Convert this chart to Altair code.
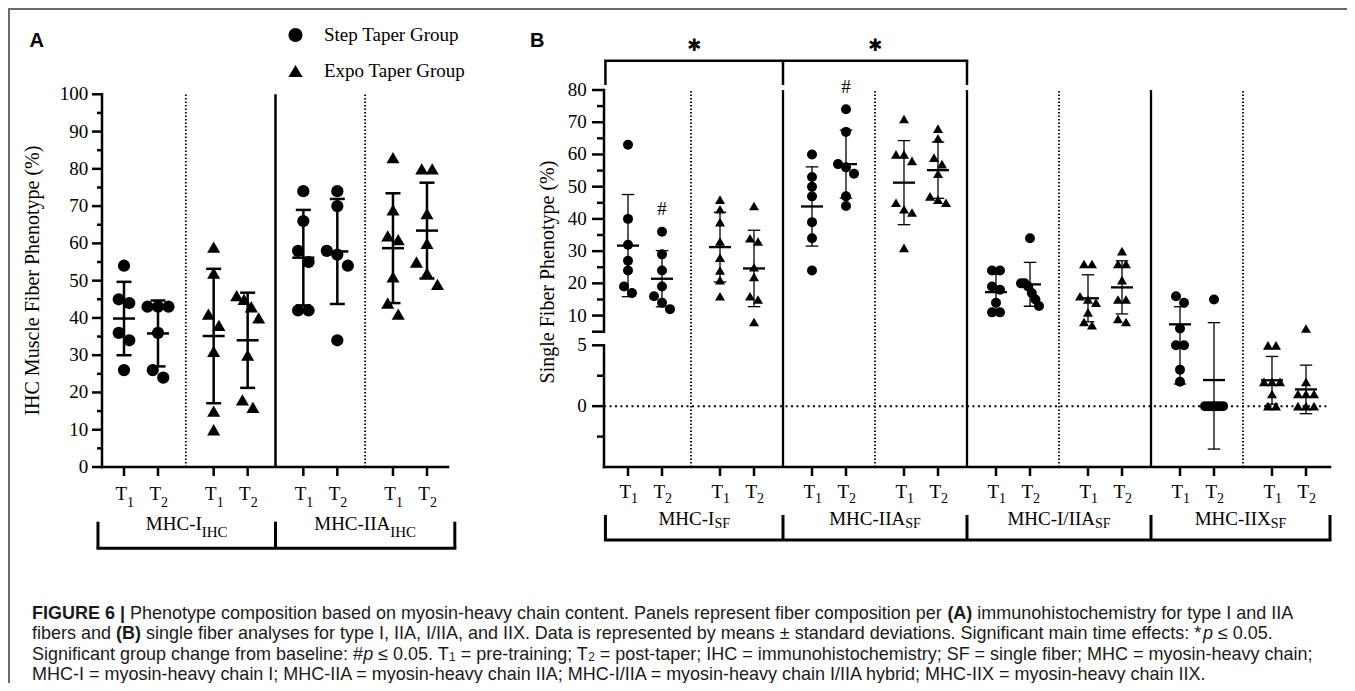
import altair as alt
import numpy as np
import pandas as pd

# ---------------- values ----------------
GROUPS = ["Step Taper Group", "Expo Taper Group"]
SHAPES = ["circle", "triangle-up"]
TIMES = ["T1", "T2"]

A_BLOCKS = ["MHC-I", "MHC-IIA"]
A_SUBSCRIPT = "IHC"
A_TITLE = "IHC Muscle Fiber Phenotype (%)"
A_I_STEP_T1 = [54, 45, 44, 36, 34, 26]
A_I_STEP_T2 = [43, 43, 43, 36, 26, 24]
A_I_EXPO_T1 = [59, 52, 41, 38, 31, 15, 10]
A_I_EXPO_T2 = [46, 45, 43, 40, 30, 18, 16]
A_IIA_STEP_T1 = [74, 66, 58, 55, 42, 42]
A_IIA_STEP_T2 = [74, 70, 58, 57, 54, 34]
A_IIA_EXPO_T1 = [83, 69, 62, 61, 51, 44, 41]
A_IIA_EXPO_T2 = [80, 80, 68, 60, 55, 52, 49]
A_Y_TICKS = [0, 10, 20, 30, 40, 50, 60, 70, 80, 90, 100]
A_Y_MINOR = [5, 15, 25, 35, 45, 55, 65, 75, 85, 95]

B_BLOCKS = ["MHC-I", "MHC-IIA", "MHC-I/IIA", "MHC-IIX"]
B_SUBSCRIPT = "SF"
B_TITLE = "Single Fiber Phenotype (%)"
B_I_STEP_T1 = [63, 40, 32, 27, 24, 19, 17]
B_I_STEP_T2 = [36, 29, 24, 19, 16, 14, 12]
B_I_EXPO_T1 = [46, 43, 39, 33, 28, 24, 21, 16]
B_I_EXPO_T2 = [44, 34, 33, 25, 22, 16, 15, 8]
B_IIA_STEP_T1 = [60, 53, 50, 47, 39, 34, 24]
B_IIA_STEP_T2 = [74, 67, 57, 56, 54, 47, 44]
B_IIA_EXPO_T1 = [71, 60, 60, 58, 45, 43, 42, 31]
B_IIA_EXPO_T2 = [68, 65, 59, 57, 54, 47, 46, 45]
B_HYB_STEP_T1 = [24, 24, 19, 18, 14, 11, 11]
B_HYB_STEP_T2 = [34, 20, 20, 19, 17, 15, 13]
B_HYB_EXPO_T1 = [26, 26, 16, 15, 14, 11, 8, 7]
B_HYB_EXPO_T2 = [30, 26, 26, 21, 15, 15, 9, 8]
B_IIX_STEP_T1 = [16, 14, 6, 5, 5, 3, 2]
B_IIX_STEP_T2 = [15, 0, 0, 0, 0, 0, 0]
B_IIX_EXPO_T1 = [5, 5, 2, 2, 2, 1, 0, 0]
B_IIX_EXPO_T2 = [6, 2, 1, 1, 1, 0, 0, 0]
B_Y_TICKS = [0, 5, 10, 20, 30, 40, 50, 60, 70, 80]
B_Y_MINOR = [-2.5, 2.5, 15, 25, 35, 45, 55, 65, 75]
B_HASH = [("MHC-I", "Step Taper Group", "T2"), ("MHC-IIA", "Step Taper Group", "T2")]
HASH_SYMBOL = "#"
B_TIME_EFFECT = ["MHC-I", "MHC-IIA"]
TIME_SYMBOL = "\u2731"

CAPTION_LINES = [
    [("FIGURE 6 |", "b"),
     (" Phenotype composition based on myosin-heavy chain content. Panels represent fiber composition per ", "r"),
     ("(A)", "b"), (" immunohistochemistry for type I and IIA", "r")],
    [("fibers and ", "r"), ("(B)", "b"),
     (" single fiber analyses for type I, IIA, I/IIA, and IIX. Data is represented by means \u00b1 standard deviations. Significant main time effects: *", "r"),
     ("p", "i"), (" \u2264 0.05.", "r")],
    [("Significant group change from baseline: #", "r"), ("p", "i"), (" \u2264 0.05. T", "r"), ("1", "s"),
     (" = pre-training; T", "r"), ("2", "s"),
     (" = post-taper; IHC = immunohistochemistry; SF = single fiber; MHC = myosin-heavy chain;", "r")],
    [("MHC-I = myosin-heavy chain I; MHC-IIA = myosin-heavy chain IIA; MHC-I/IIA = myosin-heavy chain I/IIA hybrid; MHC-IIX = myosin-heavy chain IIX.", "r")],
]

A_SERIES = [
    ("MHC-I", GROUPS[0], "T1", A_I_STEP_T1), ("MHC-I", GROUPS[0], "T2", A_I_STEP_T2),
    ("MHC-I", GROUPS[1], "T1", A_I_EXPO_T1), ("MHC-I", GROUPS[1], "T2", A_I_EXPO_T2),
    ("MHC-IIA", GROUPS[0], "T1", A_IIA_STEP_T1), ("MHC-IIA", GROUPS[0], "T2", A_IIA_STEP_T2),
    ("MHC-IIA", GROUPS[1], "T1", A_IIA_EXPO_T1), ("MHC-IIA", GROUPS[1], "T2", A_IIA_EXPO_T2),
]
B_SERIES = [
    ("MHC-I", GROUPS[0], "T1", B_I_STEP_T1), ("MHC-I", GROUPS[0], "T2", B_I_STEP_T2),
    ("MHC-I", GROUPS[1], "T1", B_I_EXPO_T1), ("MHC-I", GROUPS[1], "T2", B_I_EXPO_T2),
    ("MHC-IIA", GROUPS[0], "T1", B_IIA_STEP_T1), ("MHC-IIA", GROUPS[0], "T2", B_IIA_STEP_T2),
    ("MHC-IIA", GROUPS[1], "T1", B_IIA_EXPO_T1), ("MHC-IIA", GROUPS[1], "T2", B_IIA_EXPO_T2),
    ("MHC-I/IIA", GROUPS[0], "T1", B_HYB_STEP_T1), ("MHC-I/IIA", GROUPS[0], "T2", B_HYB_STEP_T2),
    ("MHC-I/IIA", GROUPS[1], "T1", B_HYB_EXPO_T1), ("MHC-I/IIA", GROUPS[1], "T2", B_HYB_EXPO_T2),
    ("MHC-IIX", GROUPS[0], "T1", B_IIX_STEP_T1), ("MHC-IIX", GROUPS[0], "T2", B_IIX_STEP_T2),
    ("MHC-IIX", GROUPS[1], "T1", B_IIX_EXPO_T1), ("MHC-IIX", GROUPS[1], "T2", B_IIX_EXPO_T2),
]

# ---------------- layout / style ----------------
W, H = 1339, 675
INK = "black"
SERIF = "Liberation Serif"
SANS = "Liberation Sans"
TICK_FS = 19
T_OFF_PX = 17
XT_LEN = 9

TIMES_W = {"M": 889, "H": 722, "C": 667, "-": 333, "I": 333, "A": 722, "/": 278,
           "X": 722, "S": 556, "F": 556, "T": 611}


def serif_w(s, fs):
    return sum(TIMES_W.get(ch, 500) for ch in s) * fs / 1000.0


HELV = {ch: 556 for ch in "0123456789abdeghnopqu#$?_"}
HELV.update({ch: 500 for ch in "cksvxyzJ"})
HELV.update({ch: 222 for ch in "ijl"})
HELV.update({ch: 278 for ch in " !,./:;ftI[]"})
HELV.update({ch: 333 for ch in "()-r"})
HELV.update({ch: 667 for ch in "ABEKPSVXY"})
HELV.update({ch: 722 for ch in "CDHNRUw"})
HELV.update({ch: 778 for ch in "GOQ"})
HELV.update({ch: 611 for ch in "FTZ"})
HELV.update({"L": 556, "M": 833, "W": 944, "m": 833, "%": 889, "&": 667, "*": 389,
             "+": 584, "=": 584, "<": 584, ">": 584, "|": 260, "\u00b1": 584, "\u2264": 549})
HELV_B = dict(HELV)
HELV_B.update({"A": 722, "B": 722, "|": 280})
SUB_F = 0.66


def seg_w(text, style, fs):
    tbl = HELV_B if style == "b" else HELV
    f = fs * (SUB_F if style == "s" else 1.0)
    return sum(tbl.get(ch, 556) for ch in text) * f / 1000.0


def swarm(vals, to_px, near, gap, maxw):
    order = sorted(range(len(vals)), key=lambda i: -vals[i])
    clusters, last = [], None
    for i in order:
        p = to_px(vals[i])
        if last is not None and abs(p - last) < near:
            clusters[-1].append(i)
        else:
            clusters.append([i])
        last = p
    off = [0.0] * len(vals)
    for cl in clusters:
        n = len(cl)
        if n > 1:
            sp = min(gap, maxw / (n - 1))
            for j, i in enumerate(cl):
                off[i] = (j - (n - 1) / 2) * sp
    return off


LEGEND = alt.Legend(title=None, orient="none", legendX=278, legendY=17.5, padding=0,
                    labelFont=SERIF, labelFontSize=19, labelColor=INK, labelOffset=19,
                    rowPadding=16, symbolSize=200, symbolFillColor=INK, symbolStrokeColor=INK,
                    symbolStrokeWidth=0, symbolOpacity=1, labelLimit=300)

A_CFG = dict(xdom=[-0.435, 3.424], xrng=[94, 440], ydom=[0, 100], yrng=[459, 86.3],
             ybase=0, ytop=100, segs=[(0, 100)], major=A_Y_TICKS, minor=A_Y_MINOR, labels=A_Y_TICKS,
             edges=[-0.48, 1.5, 3.5], near=12, gap=10.5, maxw=22, msize=[150, 170],
             axis_w=2.5, maj_len=10, min_len=5, lab_dx=-13.7,
             t_base=492, tsub_base=498.7, tsub_fs=14,
             cat_base=522, csub_base=528.7, cat_fs=19, csub_fs=15,
             br_top=513.7, br_bot=540.3, br_w=3,
             rule_w=2.5, cap_len=15, cap_w=2.5, mean_len=22, mean_w=2.5,
             solid_w=2.5, dot_w=1.8, dot_dash=[1.5, 2], legend=True)

B_BREAK = 5.0001
B_CFG = dict(xdom=[-0.4457, 7.4457], xrng=[596, 1322], ydom=[-5, 5, B_BREAK, 80],
             yrng=[459, 337.3, 323.7, 82],
             ybase=-5, ytop=80, segs=[(-5, 5), (B_BREAK, 80)], major=B_Y_TICKS + [B_BREAK],
             minor=B_Y_MINOR, labels=B_Y_TICKS,
             edges=[-0.43, 1.5, 3.5, 5.5, 7.4457], near=9, gap=8, maxw=18, msize=[100, 100],
             axis_w=2.5, maj_len=12, min_len=7, lab_dx=-17.3,
             t_base=490.3, tsub_base=495.3, tsub_fs=14,
             cat_base=517, csub_base=520.3, cat_fs=19, csub_fs=14,
             br_top=507, br_bot=532, br_w=3,
             rule_w=1.3, cap_len=12.5, cap_w=1.3, mean_len=22, mean_w=2.3,
             solid_w=2.3, dot_w=1.8, dot_dash=[1.5, 2], legend=False,
             zero_w=2, zero_dash=[2, 3.5], top_y=52.7, top_bot=77, top_w=2.5,
             star_y=38, hash_dy=-22.5)


def build_panel(series, blocks, subscript, c):
    xs = alt.Scale(domain=c["xdom"], range=c["xrng"], nice=False, zero=False)
    ys = alt.Scale(domain=c["ydom"], range=c["yrng"], nice=False, zero=False)
    ppu = (c["xrng"][1] - c["xrng"][0]) / (c["xdom"][1] - c["xdom"][0])
    toff = T_OFF_PX / ppu

    def ypx(v):
        return float(np.interp(v, c["ydom"], c["yrng"]))

    def X(f):
        return alt.X(f, type="quantitative", scale=xs, axis=None)

    def Y(f):
        return alt.Y(f, type="quantitative", scale=ys, axis=None)

    rows, slots = [], []
    for block, grp, t, vals in series:
        gi = GROUPS.index(grp)
        u = 2 * blocks.index(block) + gi + (toff if t == TIMES[1] else -toff)
        slots.append({"u": u, "yb": c["ybase"], "main": t[0], "sub": t[1:]})
        for v, o in zip(vals, swarm(vals, ypx, c["near"], c["gap"], c["maxw"])):
            rows.append({"block": block, "group": grp, "time": t, "u": u, "value": v,
                         "xj": u + o / ppu, "shape": SHAPES[gi]})
    pts = pd.DataFrame(rows)
    slots = pd.DataFrame(slots)
    nb = len(blocks)
    L = []

    # dividers
    dotted = pd.DataFrame({"x": [2 * b + 0.5 for b in range(nb)], "y0": c["ybase"], "y1": c["ytop"]})
    solid = pd.DataFrame({"x": [2 * b + 1.5 for b in range(nb - 1)], "y0": c["ybase"], "y1": c["ytop"]})
    L.append(alt.Chart(dotted).mark_rule(color=INK, strokeWidth=c["dot_w"], strokeDash=c["dot_dash"])
             .encode(x=X("x"), y=Y("y0"), y2=alt.Y2("y1")))
    L.append(alt.Chart(solid).mark_rule(color=INK, strokeWidth=c["solid_w"])
             .encode(x=X("x"), y=Y("y0"), y2=alt.Y2("y1")))
    if "zero_w" in c:
        zl = pd.DataFrame({"x0": [c["xdom"][0]], "x1": [c["xdom"][1]], "y": [0]})
        L.append(alt.Chart(zl).mark_rule(color=INK, strokeWidth=c["zero_w"], strokeDash=c["zero_dash"])
                 .encode(x=X("x0"), x2=alt.X2("x1"), y=Y("y")))

    # y axis
    x0 = c["xdom"][0]
    segs = pd.DataFrame({"x": x0, "y0": [s[0] for s in c["segs"]], "y1": [s[1] for s in c["segs"]]})
    L.append(alt.Chart(segs).mark_rule(color=INK, strokeWidth=c["axis_w"], strokeCap="square")
             .encode(x=X("x"), y=Y("y0"), y2=alt.Y2("y1")))
    maj = pd.DataFrame({"x": x0, "y": c["major"]})
    L.append(alt.Chart(maj).mark_tick(orient="horizontal", size=c["maj_len"], thickness=c["axis_w"],
                                      xOffset=-c["maj_len"] / 2, color=INK, opacity=1)
             .encode(x=X("x"), y=Y("y")))
    mnr = pd.DataFrame({"x": x0, "y": c["minor"]})
    L.append(alt.Chart(mnr).mark_tick(orient="horizontal", size=c["min_len"], thickness=c["axis_w"],
                                      xOffset=-c["min_len"] / 2, color=INK, opacity=1)
             .encode(x=X("x"), y=Y("y")))
    lab = pd.DataFrame({"x": x0, "y": c["labels"], "t": [str(v) for v in c["labels"]]})
    L.append(alt.Chart(lab).mark_text(align="right", baseline="middle", dx=c["lab_dx"], font=SERIF,
                                      fontSize=TICK_FS, color=INK)
             .encode(x=X("x"), y=Y("y"), text="t:N"))

    # x axis
    xl = pd.DataFrame({"x0": [c["xdom"][0]], "x1": [c["xdom"][1]], "y": [c["ybase"]]})
    L.append(alt.Chart(xl).mark_rule(color=INK, strokeWidth=c["axis_w"], strokeCap="square")
             .encode(x=X("x0"), x2=alt.X2("x1"), y=Y("y")))
    L.append(alt.Chart(slots).mark_tick(orient="vertical", size=XT_LEN, thickness=c["axis_w"],
                                        yOffset=XT_LEN / 2, color=INK, opacity=1)
             .encode(x=X("u"), y=Y("yb")))
    L.append(alt.Chart(slots).mark_text(align="right", baseline="alphabetic", dx=3, font=SERIF,
                                        fontSize=TICK_FS, color=INK)
             .encode(x=X("u"), y=alt.value(c["t_base"]), text="main:N"))
    L.append(alt.Chart(slots).mark_text(align="left", baseline="alphabetic", dx=3, font=SERIF,
                                        fontSize=c["tsub_fs"], color=INK)
             .encode(x=X("u"), y=alt.value(c["tsub_base"]), text="sub:N"))

    # block labels + bottom bracket
    edges = c["edges"]
    cats = []
    for b, name in enumerate(blocks):
        mid = (edges[b] + edges[b + 1]) / 2
        mw = serif_w(name, c["cat_fs"])
        sw = serif_w(subscript, c["csub_fs"])
        u0 = mid - (mw + sw) / 2 / ppu
        cats.append({"u0": u0, "u1": u0 + mw / ppu, "main": name, "sub": subscript})
    cats = pd.DataFrame(cats)
    L.append(alt.Chart(cats).mark_text(align="left", baseline="alphabetic", font=SERIF,
                                       fontSize=c["cat_fs"], color=INK)
             .encode(x=X("u0"), y=alt.value(c["cat_base"]), text="main:N"))
    L.append(alt.Chart(cats).mark_text(align="left", baseline="alphabetic", font=SERIF,
                                       fontSize=c["csub_fs"], color=INK)
             .encode(x=X("u1"), y=alt.value(c["csub_base"]), text="sub:N"))
    bv = pd.DataFrame({"x": edges})
    L.append(alt.Chart(bv).mark_rule(color=INK, strokeWidth=c["br_w"])
             .encode(x=X("x"), y=alt.value(c["br_top"]), y2=alt.value(c["br_bot"])))
    bh = pd.DataFrame({"x0": [edges[0]], "x1": [edges[-1]]})
    L.append(alt.Chart(bh).mark_rule(color=INK, strokeWidth=c["br_w"], strokeCap="square")
             .encode(x=X("x0"), x2=alt.X2("x1"), y=alt.value(c["br_bot"])))

    # significance marks (panel B)
    if "top_y" in c:
        idx = [blocks.index(b) for b in B_TIME_EFFECT]
        te = [edges[i] for i in range(min(idx), max(idx) + 2)]
        tv = pd.DataFrame({"x": te})
        L.append(alt.Chart(tv).mark_rule(color=INK, strokeWidth=c["top_w"])
                 .encode(x=X("x"), y=alt.value(c["top_y"]), y2=alt.value(c["top_bot"])))
        th = pd.DataFrame({"x0": [te[0]], "x1": [te[-1]]})
        L.append(alt.Chart(th).mark_rule(color=INK, strokeWidth=c["top_w"], strokeCap="square")
                 .encode(x=X("x0"), x2=alt.X2("x1"), y=alt.value(c["top_y"])))
        stars = pd.DataFrame({"x": [(edges[i] + edges[i + 1]) / 2 for i in idx], "s": TIME_SYMBOL})
        L.append(alt.Chart(stars).mark_text(align="center", baseline="middle", font="DejaVu Sans",
                                            fontSize=17, fontWeight="bold", color=INK)
                 .encode(x=X("x"), y=alt.value(c["star_y"]), text="s:N"))
        hrows = []
        for blk, grp, t in B_HASH:
            sel = pts[(pts.block == blk) & (pts.group == grp) & (pts.time == t)]
            hrows.append({"x": sel.u.iloc[0], "y": sel.value.max(), "s": HASH_SYMBOL})
        L.append(alt.Chart(pd.DataFrame(hrows)).mark_text(align="center", baseline="middle",
                                                          dy=c["hash_dy"], font=SERIF, fontSize=19,
                                                          color=INK)
                 .encode(x=X("x"), y=Y("y"), text="s:N"))

    # points
    for gi, g in enumerate(GROUPS):
        if c["legend"]:
            shp = alt.Shape("group:N", scale=alt.Scale(domain=GROUPS, range=SHAPES), legend=LEGEND)
        else:
            shp = alt.Shape("shape:N", scale=None)
        L.append(alt.Chart(pts).transform_filter(alt.datum.group == g)
                 .mark_point(filled=True, opacity=1, color=INK, size=c["msize"][gi], strokeWidth=0)
                 .encode(x=X("xj"), y=Y("value"), shape=shp))

    # mean +/- SD
    eb = (alt.Chart(pts)
          .transform_aggregate(m="mean(value)", s="stdev(value)", groupby=["u"])
          .transform_calculate(lo="datum.m - datum.s", hi="datum.m + datum.s"))
    L.append(eb.mark_rule(color=INK, strokeWidth=c["rule_w"]).encode(x=X("u"), y=Y("lo"), y2=alt.Y2("hi")))
    for f in ["lo", "hi"]:
        L.append(eb.mark_tick(orient="horizontal", size=c["cap_len"], thickness=c["cap_w"], color=INK, opacity=1)
                 .encode(x=X("u"), y=Y(f)))
    L.append(eb.mark_tick(orient="horizontal", size=c["mean_len"], thickness=c["mean_w"], color=INK, opacity=1)
             .encode(x=X("u"), y=Y("m")))
    return alt.layer(*L)


panel_a = build_panel(A_SERIES, A_BLOCKS, A_SUBSCRIPT, A_CFG)
panel_b = build_panel(B_SERIES, B_BLOCKS, B_SUBSCRIPT, B_CFG)

one = pd.DataFrame({"k": [0]})
FRAME = "#6b6b6b"
frame_top = alt.Chart(one).mark_rule(color=FRAME, strokeWidth=2).encode(
    x=alt.value(0), x2=alt.value(W), y=alt.value(1))
frame_left = alt.Chart(one).mark_rule(color=FRAME, strokeWidth=2).encode(
    x=alt.value(1), y=alt.value(0), y2=alt.value(H))

letters = pd.DataFrame({"t": ["A", "B"], "x": [28.7, 529.3], "y": [38.7, 38.7]})
letter_layer = alt.Chart(letters).mark_text(align="center", baseline="alphabetic", font=SANS, fontSize=20,
                                            fontWeight="bold", color=INK).encode(
    x=alt.X("x:Q", scale=None, axis=None), y=alt.Y("y:Q", scale=None, axis=None), text="t:N")

titles = pd.DataFrame({"t": [A_TITLE, B_TITLE], "x": [25, 540], "y": [272.6, 264]})
title_layer = alt.Chart(titles).mark_text(angle=270, align="center", baseline="middle", font=SERIF,
                                          fontSize=20, color=INK).encode(
    x=alt.X("x:Q", scale=None, axis=None), y=alt.Y("y:Q", scale=None, axis=None), text="t:N")

# caption, laid out with Helvetica/Arial metrics
CAP_X0 = 24
CAP_ENDS = [1287, 1262, 1318.7, 1190]
CAP_BASE = [611.3, 631.3, 652, 672]
em = [sum(seg_w(t, s, 1.0) for t, s in line) for line in CAPTION_LINES]
CAP_FS = float(np.mean([(e - CAP_X0) / w for e, w in zip(CAP_ENDS, em)]))
crow = []
for li, line in enumerate(CAPTION_LINES):
    xc = CAP_X0
    for t, s in line:
        lead = len(t) - len(t.lstrip(" "))
        crow.append({"x": xc + seg_w(" " * lead, s, CAP_FS), "y": CAP_BASE[li], "t": t.strip(" "), "s": s})
        xc += seg_w(t, s, CAP_FS)
cap = pd.DataFrame(crow)
CAP_INK = "#1a1a1a"
cap_layers = []
for s, kw in [("r", {}), ("b", {"fontWeight": "bold"}), ("i", {"fontStyle": "italic"}),
              ("s", {"fontSize": CAP_FS * SUB_F, "dy": 1})]:
    props = dict(align="left", baseline="alphabetic", font=SANS, fontSize=CAP_FS, color=CAP_INK)
    props.update(kw)
    cap_layers.append(alt.Chart(cap).transform_filter(alt.datum.s == s).mark_text(**props).encode(
        x=alt.X("x:Q", scale=None, axis=None), y=alt.Y("y:Q", scale=None, axis=None), text="t:N"))

chart = (alt.layer(frame_top, frame_left, panel_a, panel_b, letter_layer, title_layer, *cap_layers)
         .resolve_scale(x="independent", y="independent")
         .properties(width=W, height=H, padding=0, autosize=alt.AutoSizeParams(type="none"))
         .configure_view(stroke=None))

chart.save("out.html", embed_options={"renderer": "svg", "actions": False})
